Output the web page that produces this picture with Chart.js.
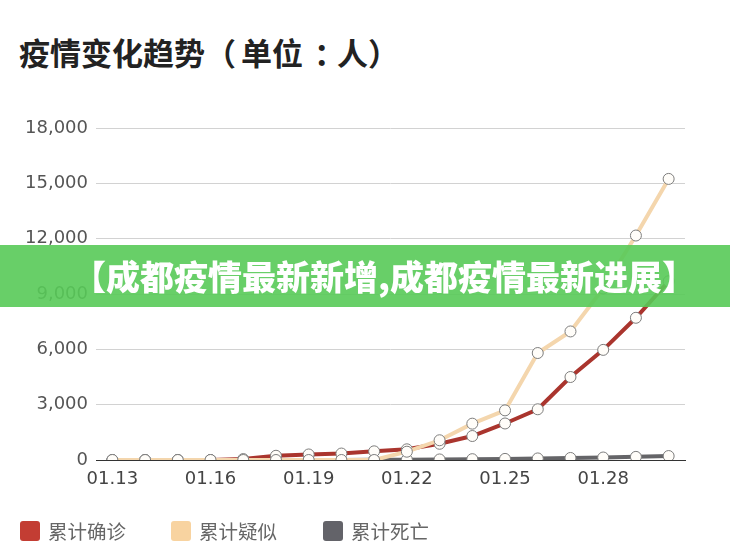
<!DOCTYPE html>
<html>
<head>
<meta charset="utf-8">
<script src="https://cdn.jsdelivr.net/npm/chart.js@4.4.1/dist/chart.umd.min.js"></script>
<style>
  body { margin: 0; width: 730px; height: 555px; overflow: hidden; background: #fff; position: relative; font-family: "Noto Sans CJK SC", sans-serif; }
  #wrap { position: absolute; left: 0; top: 0; width: 730px; height: 555px; }
  #title { position: absolute; left: 19px; top: 30px; font-size: 31px; font-weight: bold; color: #222; line-height: 44px; white-space: nowrap; }
  #title .a { margin-left: 5px; }
  #title .c { margin-left: 11px; margin-right: -8px; }
  #legend .item { position: absolute; top: 519px; height: 24px; display: flex; align-items: center; white-space: nowrap; }
  #legend .box { width: 20px; height: 20px; border-radius: 3px; margin-right: 8px; }
  #legend .label { font-size: 19.5px; color: #666; line-height: 24px; }
  #banner { position: absolute; left: 0; top: 245px; width: 730px; height: 62px; box-sizing: border-box; padding-left: 38px; background: rgba(88, 202, 88, 0.9); color: #fff; font-size: 34px; font-weight: 900; text-align: center; line-height: 62px; white-space: nowrap; }
</style>
</head>
<body>
<div id="title">疫情变化趋势（<span class="a">单位</span><span class="c">：</span>人）</div>
<div id="wrap"><canvas id="myChart"></canvas></div>
<div id="legend"></div>
<div id="banner">【成都疫情最新新增,成都疫情最新进展】</div>
<script>
// data
const dates = ['01.13', '01.14', '01.15', '01.16', '01.17', '01.18', '01.19', '01.20', '01.21',
               '01.22', '01.23', '01.24', '01.25', '01.26', '01.27', '01.28', '01.29', '01.30'];
const confirmed = [0, 0, 0, 0, 50, 230, 300, 350, 470, 580, 880, 1300, 1980, 2750, 4500, 5970, 7710, 9690];
const suspected = [0, 0, 0, 0, 0, 0, 0, 0, 0, 450, 1070, 1970, 2690, 5800, 6970, 9300, 12170, 15240];
const deaths = [0, 0, 0, 0, 0, 0, 0, 0, 10, 20, 30, 45, 60, 85, 110, 135, 170, 215];
const xTickLabels = ['01.13', '01.16', '01.19', '01.22', '01.25', '01.28'];
const yTicks = [0, 3000, 6000, 9000, 12000, 15000, 18000];
const seriesNames = ['累计确诊', '累计疑似', '累计死亡'];
const seriesColors = ['#aa352e', '#f4d6ad', '#656568'];
const legendColors = ['#c33d33', '#f8d3a0', '#636369'];

// legend (html)
const legendLeft = [20, 171, 323];
const legend = document.querySelector('#legend');
seriesNames.forEach((name, i) => {
    const item = document.createElement('div');
    item.className = 'item';
    item.style.left = legendLeft[i] + 'px';
    item.innerHTML = `<div class="box" style="background:${legendColors[i]}"></div><span class="label">${name}</span>`;
    legend.appendChild(item);
});

const tickFont = { family: 'DejaVu Sans', size: 18 };

function line(data, i, order) {
    return {
        label: seriesNames[i],
        data: data,
        borderColor: seriesColors[i],
        backgroundColor: seriesColors[i],
        borderWidth: 4,
        tension: 0,
        pointRadius: 5.5,
        pointBackgroundColor: '#fffdf9',
        pointBorderColor: '#7d7d7d',
        pointBorderWidth: 1,
        order: order
    };
}

const ctx = document.getElementById('myChart').getContext('2d');
const myChart = new Chart(ctx, {
    type: 'line',
    data: {
        labels: dates,
        datasets: [
            line(confirmed, 0, 1),
            line(suspected, 1, 0),
            line(deaths, 2, 2)
        ]
    },
    options: {
        responsive: true,
        maintainAspectRatio: false,
        animation: false,
        events: [],
        layout: { padding: { left: 0, right: 45, top: 128, bottom: 55 } },
        plugins: {
            legend: { display: false },
            tooltip: { enabled: false },
            title: { display: false }
        },
        scales: {
            x: {
                offset: true,
                grid: { display: false, drawTicks: false },
                border: { display: true, color: '#333', width: 1 },
                ticks: {
                    autoSkip: false,
                    maxRotation: 0,
                    padding: 9,
                    color: '#444',
                    font: tickFont,
                    callback: function (value, index) {
                        return xTickLabels.includes(dates[index]) ? dates[index] : '';
                    }
                },
                afterFit: function (scale) { scale.height = 40; }
            },
            y: {
                min: yTicks[0],
                max: yTicks[yTicks.length - 1],
                grid: { color: '#d2d2d2', drawTicks: false },
                border: { display: false },
                ticks: {
                    stepSize: yTicks[1] - yTicks[0],
                    padding: 8,
                    color: '#555',
                    font: tickFont,
                    callback: v => v.toLocaleString('en-US')
                },
                afterFit: function (scale) { scale.width = 96; }
            }
        }
    }
});
</script>
</body>
</html>
